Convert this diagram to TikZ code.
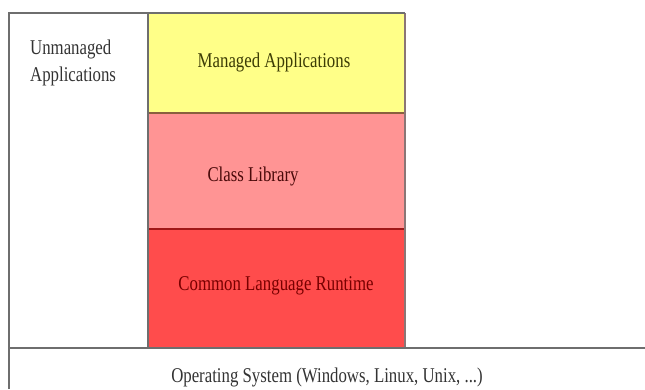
\documentclass[tikz,border=0pt]{standalone}
\usepackage{fontspec}
\setmainfont{Liberation Serif}
\definecolor{frame}{HTML}{6E6E6E}
\definecolor{mgdfill}{HTML}{FFFF88}
\definecolor{libfill}{HTML}{FF9494}
\definecolor{clrfill}{HTML}{FF4C4C}
\definecolor{mgdtext}{HTML}{3C3C05}
\definecolor{libtext}{HTML}{4A0A0A}
\definecolor{clrtext}{HTML}{780000}
\definecolor{plaintext}{HTML}{333333}
\begin{document}
\begin{tikzpicture}[x=1pt,y=-1pt,
  layer/.style={line width=1.6pt},
  label/.style={inner sep=0pt, font=\fontsize{21}{27}\selectfont, xscale=0.8, transform shape}]
\useasboundingbox (0,0) rectangle (645,389);
% managed stack
\fill[mgdfill] (148,13) rectangle (405,113);
\fill[libfill] (148,113) rectangle (405,229);
\fill[clrfill] (148,229) rectangle (405,348);
\draw[layer, draw=mgdtext!60!libfill] (148,113) -- (405,113);
\draw[layer, draw=clrtext!70!clrfill] (148,229) -- (405,229);
\draw[layer, draw=frame!80!libfill] (405,13) -- (405,348);
\draw[layer, draw=frame] (148,13) -- (148,348);
% outer frame and OS strip
\draw[layer, draw=frame] (9,389) -- (9,13) -- (405,13);
\draw[layer, draw=frame] (9,348) -- (645,348);
% labels
\node[label, text=plaintext, anchor=north west, align=left] (unmanaged) at (30,40) {Unmanaged\\Applications};
\node[label, text=mgdtext] (managed) at (274,62) {Managed Applications};
\node[label, text=libtext] (classlib) at (253,176) {Class Library};
\node[label, text=clrtext] (clr) at (276,286) {Common Language Runtime};
\node[label, text=plaintext] (os) at (327,377) {Operating System (Windows, Linux, Unix, ...)};
\end{tikzpicture}
\end{document}
